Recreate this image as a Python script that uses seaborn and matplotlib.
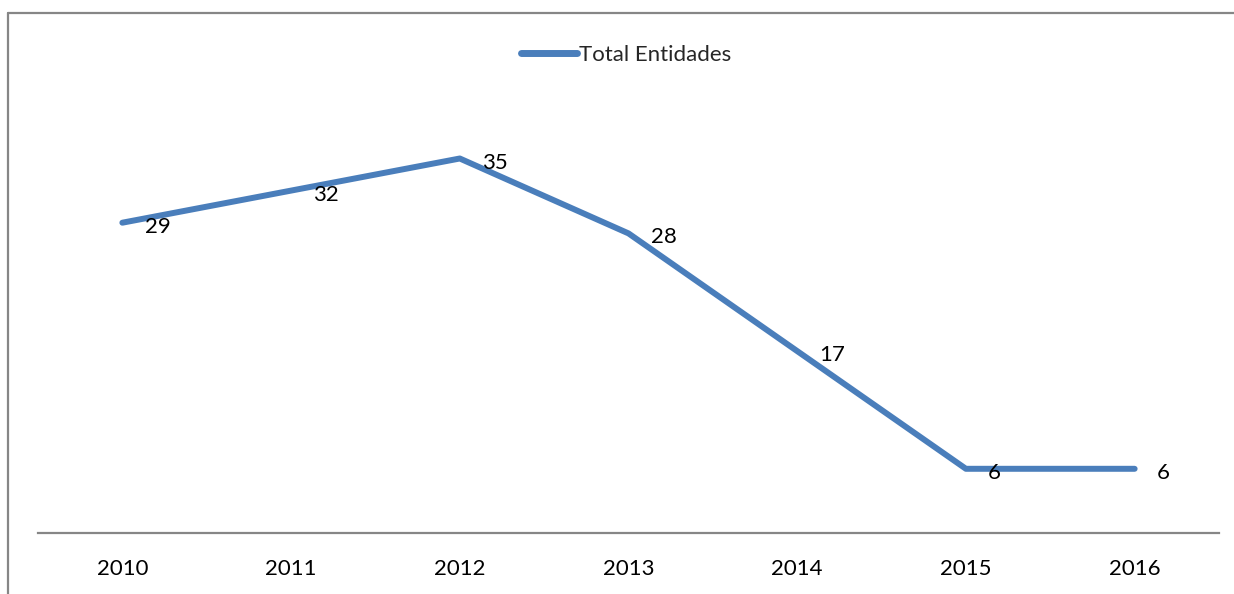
import seaborn as sns
import pandas as pd
import matplotlib.pyplot as plt
from matplotlib.lines import Line2D

# datos del gráfico
anios = ["2010", "2011", "2012", "2013", "2014", "2015", "2016"]
total_entidades = [29, 32, 35, 28, 17, 6, 6]
serie = "Total Entidades"

AZUL = "#4A7EBB"
GRIS = "#868686"
TAM = 16

sns.set_theme(style="white")
plt.rcParams['font.family'] = ['Lato', 'DejaVu Sans']

df = pd.DataFrame({"Año": anios, "Valor": total_entidades, "Serie": serie})

fig = plt.figure(figsize=(12.34, 5.94), dpi=100)
ax = fig.add_axes([38 / 1234, 1 - 533 / 594, (1219 - 38) / 1234, (533 - 105) / 594])

sns.lineplot(data=df, x="Año", y="Valor", hue="Serie", palette=[AZUL],
             linewidth=4.3, ax=ax, sort=False)

# etiquetas de datos a la derecha de cada punto
for i, v in enumerate(total_entidades):
    ax.annotate(str(v), (i, v), xytext=(16, -1.5), textcoords="offset points",
                ha="left", va="center_baseline", fontsize=TAM, color="black")

ax.set_xlim(-0.5, len(anios) - 0.5)
ax.set_ylim(0, 40)
ax.set_xlabel("")
ax.set_ylabel("")
ax.set_yticks([])
ax.tick_params(axis="x", length=0, pad=19, labelsize=TAM, colors="black")
for s in ["top", "right", "left"]:
    ax.spines[s].set_visible(False)
ax.spines["bottom"].set_color(GRIS)
ax.spines["bottom"].set_linewidth(1.6)

leg = ax.legend(loc="center", bbox_to_anchor=(626 / 1234, 1 - 55 / 594),
                bbox_transform=fig.transFigure, frameon=False, fontsize=TAM,
                handlelength=2.5, handletextpad=0.1)
for h in leg.get_lines():
    h.set_linewidth(5)

# marco del gráfico (recortado a la derecha y abajo)
x0, y0 = 8 / 1234, 1 - 13 / 594
fig.add_artist(Line2D([x0, 1.05], [y0, y0], transform=fig.transFigure,
                      color=GRIS, linewidth=1.6))
fig.add_artist(Line2D([x0, x0], [y0, -0.05], transform=fig.transFigure,
                      color=GRIS, linewidth=1.6))

fig.savefig("out.png", dpi=100)
